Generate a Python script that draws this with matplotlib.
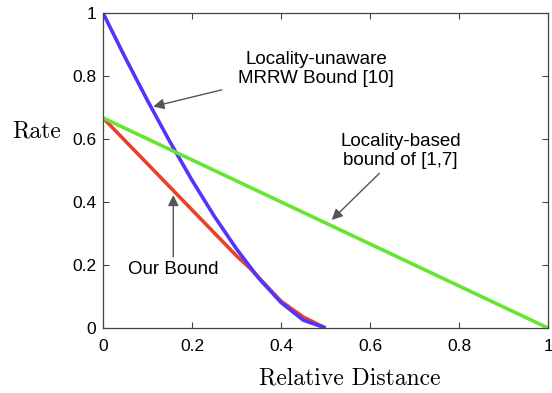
import numpy as np
import matplotlib
matplotlib.use('Agg')
import matplotlib.pyplot as plt

# values
delta = [0, 0.05, 0.1, 0.15, 0.2, 0.25, 0.3, 0.35, 0.4, 0.45, 0.5]
mrrw_rate = [1.0, 0.858, 0.722, 0.592, 0.469, 0.355, 0.251, 0.158, 0.081, 0.025, 0.0]

our_delta = [0, 0.1, 0.2, 0.3, 0.33, 0.35, 0.4, 0.45, 0.5]
our_rate = [0.667, 0.521, 0.375, 0.229, 0.19, 0.16, 0.085, 0.035, 0.0]

loc_delta = [0, 1]
loc_rate = [0.667, 0.0]

ticks = [0, 0.2, 0.4, 0.6, 0.8, 1]
tick_labels = ['0', '0.2', '0.4', '0.6', '0.8', '1']

sans = 'Liberation Sans'
serif = 'cmr10'

fig = plt.figure(figsize=(5.52, 3.93), dpi=100)
ax = fig.add_axes([0.1866, 0.1654, 0.8062, 0.8016])

ax.plot(our_delta, our_rate, color='#e8432a', lw=2.6, solid_capstyle='butt')
ax.plot(delta, mrrw_rate, color='#5533ff', lw=2.6, solid_capstyle='butt')
ax.plot(loc_delta, loc_rate, color='#66e633', lw=2.6, solid_capstyle='butt')

ax.set_xlim(0, 1)
ax.set_ylim(0, 1)
ax.set_xticks(ticks)
ax.set_xticklabels(tick_labels, fontfamily=sans, fontsize=12.5)
ax.set_yticks(ticks)
ax.set_yticklabels(tick_labels, fontfamily=sans, fontsize=12.5)
ax.tick_params(direction='in', length=4, width=0.8, color='#444444',
               top=True, right=True)
ax.tick_params(axis='x', pad=8)
ax.tick_params(axis='y', pad=5)
for s in ax.spines.values():
    s.set_color('#444444')
    s.set_linewidth(0.9)

fig.text(37 / 552, 1 - 131 / 393, 'Rate', family=serif, fontsize=17,
         ha='center', va='center')
fig.text(350 / 552, 1 - 378 / 393, 'Relative Distance', family=serif,
         fontsize=17, ha='center', va='center')

arrow = dict(arrowstyle='-|>', color='#555555', lw=1.0, mutation_scale=16,
             shrinkA=0, shrinkB=0)
ax.annotate('', xy=(0.113, 0.703), xytext=(0.267, 0.756), arrowprops=arrow)
ax.annotate('', xy=(0.158, 0.422), xytext=(0.158, 0.226), arrowprops=arrow)
ax.annotate('', xy=(0.514, 0.343), xytext=(0.621, 0.491), arrowprops=arrow)

ax.text(0.479, 0.822, 'Locality-unaware\nMRRW Bound [10]', family=sans,
        fontsize=13.5, ha='center', va='center', linespacing=1.15)
ax.text(0.669, 0.562, 'Locality-based\nbound of [1,7]', family=sans,
        fontsize=13.5, ha='center', va='center', linespacing=1.15)
ax.text(0.157, 0.186, 'Our Bound', family=sans, fontsize=13.5,
        ha='center', va='center')

fig.savefig('out.png', dpi=100)
